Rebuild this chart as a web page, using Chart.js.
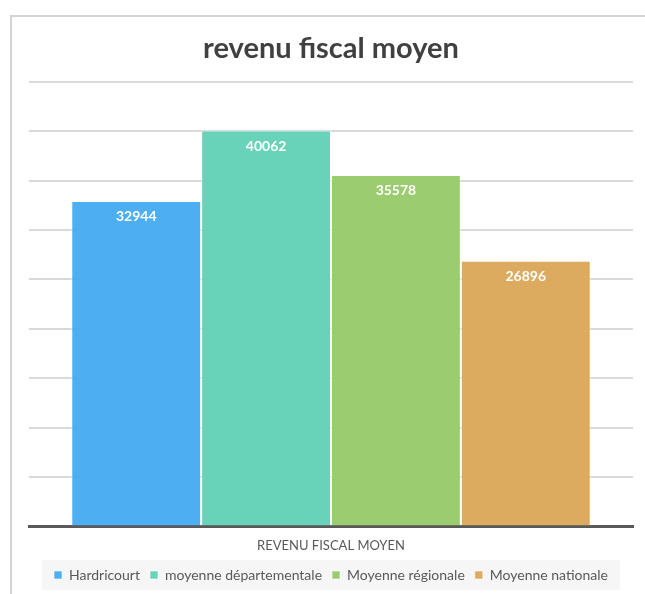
<!DOCTYPE html>
<html>
<head>
<meta charset="utf-8">
<script src="https://cdn.jsdelivr.net/npm/chart.js@4"></script>
<style>
  body { margin: 0; background: #fff; }
  #wrap {
    position: absolute; left: 10px; top: 15px;
    width: 635px; height: 579px;
    border-top: 2px solid #d4d4d4;
    border-left: 2px solid #d4d4d4;
    box-sizing: border-box;
  }
</style>
</head>
<body>
<div id="wrap"><canvas id="chart"></canvas></div>
<script>
// data
const categories = ['REVENU FISCAL MOYEN'];
const seriesNames = ['Hardricourt', 'moyenne départementale', 'Moyenne régionale', 'Moyenne nationale'];
const seriesValues = [32944, 40062, 35578, 26896];
const seriesColors = ['rgba(70, 171, 240, 0.96)', 'rgba(98, 209, 182, 0.96)', 'rgba(152, 202, 106, 0.96)', 'rgba(220, 168, 88, 0.96)'];

const fontFamily = 'Lato, "Open Sans", sans-serif';

// white value labels just under each bar top
const barLabels = {
    id: 'barLabels',
    afterDatasetsDraw(chart) {
        const ctx = chart.ctx;
        ctx.save();
        ctx.fillStyle = '#ffffff';
        ctx.font = 'bold 14px ' + fontFamily;
        ctx.textAlign = 'center';
        ctx.textBaseline = 'middle';
        chart.data.datasets.forEach(function(ds, i) {
            const meta = chart.getDatasetMeta(i);
            meta.data.forEach(function(bar, j) {
                ctx.fillText(String(ds.data[j]), bar.x, bar.y + 16);
            });
        });
        ctx.restore();
    }
};

// light grey panel behind the legend
const legendPanel = {
    id: 'legendPanel',
    beforeDraw(chart) {
        const lg = chart.legend;
        if (!lg) return;
        const ctx = chart.ctx;
        ctx.save();
        ctx.fillStyle = '#f6f6f6';
        const w = 578;
        const cx = (lg.left + lg.right) / 2;
        ctx.fillRect(cx - w / 2, lg.top + 2, w, lg.height - 4);
        ctx.restore();
    }
};

const datasets = seriesNames.map(function(name, i) {
    return {
        label: name,
        data: [seriesValues[i]],
        backgroundColor: seriesColors[i],
        borderColor: 'rgba(255,255,255,0.6)',
        borderWidth: 1
    };
});

new Chart(document.getElementById('chart'), {
    type: 'bar',
    data: { labels: categories, datasets: datasets },
    plugins: [barLabels, legendPanel],
    options: {
        responsive: true,
        maintainAspectRatio: false,
        animation: false,
        layout: { padding: { left: 17, right: 12, top: 8, bottom: 2 } },
        categoryPercentage: 0.86,
        barPercentage: 1,
        plugins: {
            title: {
                display: true,
                text: 'revenu fiscal moyen',
                color: '#404040',
                font: { family: fontFamily, size: 29, weight: 'bold' },
                padding: { top: 6, bottom: 16 }
            },
            legend: {
                position: 'bottom',
                labels: {
                    color: '#595959',
                    font: { family: fontFamily, size: 14 },
                    boxWidth: 8,
                    boxHeight: 8,
                    padding: 10
                }
            },
            tooltip: { enabled: false }
        },
        scales: {
            x: {
                grid: { display: false },
                border: { display: true, color: '#595959', width: 3 },
                ticks: { color: '#595959', font: { family: fontFamily, size: 13 }, padding: 4 }
            },
            y: {
                min: 0,
                max: 45000,
                ticks: { display: false, stepSize: 5000 },
                grid: { color: '#d9d9d9', lineWidth: 2, drawTicks: false },
                border: { display: false }
            }
        }
    }
});
</script>
</body>
</html>
